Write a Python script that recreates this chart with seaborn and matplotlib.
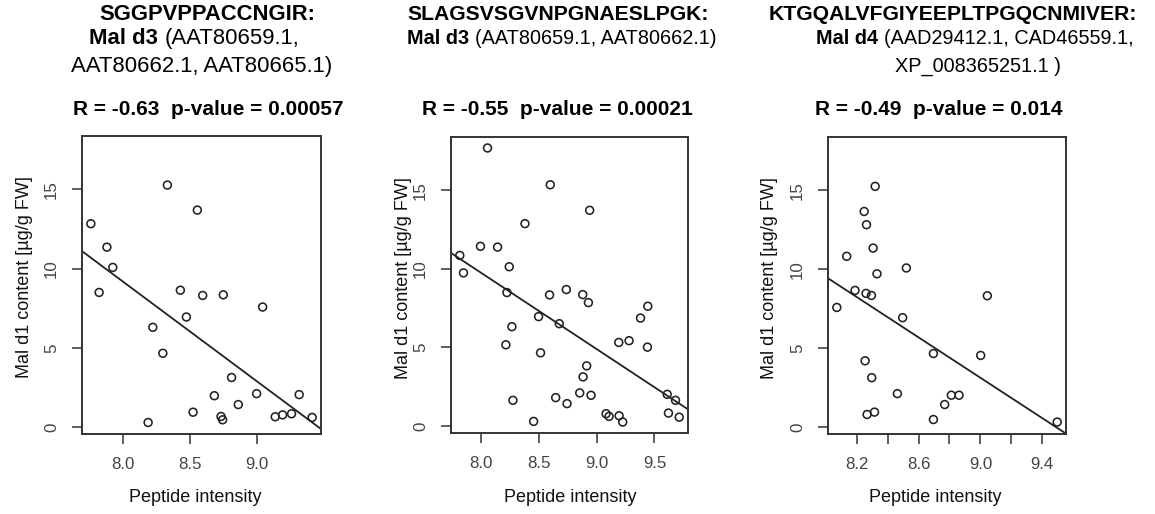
import numpy as np
import pandas as pd
import matplotlib
matplotlib.use("Agg")
import matplotlib.pyplot as plt
import seaborn as sns

# ---------------- data ----------------
p1_x = [7.761, 7.823, 7.881, 7.925, 8.189, 8.224, 8.299, 8.333, 8.430, 8.475,
        8.525, 8.557, 8.597, 8.684, 8.734, 8.746, 8.751, 8.813, 8.863, 9.000,
        9.045, 9.139, 9.194, 9.261, 9.318, 9.415]
p1_y = [12.84, 8.50, 11.36, 10.08, 0.29, 6.30, 4.66, 15.28, 8.64, 6.95,
        0.94, 13.70, 8.31, 1.98, 0.67, 0.46, 8.35, 3.13, 1.42, 2.11,
        7.58, 0.65, 0.77, 0.84, 2.05, 0.61]

p2_x = [7.815, 7.847, 8.055, 7.994, 8.142, 8.243, 8.223, 8.214, 8.266, 8.275,
        8.379, 8.454, 8.497, 8.514, 8.592, 8.598, 8.645, 8.676, 8.737, 8.743,
        8.853, 8.879, 8.882, 8.913, 8.928, 8.939, 8.951, 9.081, 9.107, 9.191,
        9.194, 9.225, 9.280, 9.379, 9.442, 9.439, 9.610, 9.621, 9.682, 9.714]
p2_y = [10.85, 9.74, 17.68, 11.43, 11.38, 10.13, 8.49, 5.17, 6.32, 1.64,
        12.87, 0.30, 6.96, 4.66, 8.34, 15.34, 1.81, 6.51, 8.68, 1.43,
        2.11, 8.36, 3.13, 3.83, 7.85, 13.72, 1.96, 0.79, 0.62, 5.32,
        0.66, 0.26, 5.43, 6.87, 7.62, 5.02, 2.02, 0.83, 1.64, 0.57]

p3_x = [8.071, 8.135, 8.189, 8.248, 8.263, 8.260, 8.295, 8.254, 8.297, 8.267,
        8.315, 8.306, 8.319, 8.331, 8.463, 8.497, 8.521, 8.696, 8.696, 8.769,
        8.812, 8.862, 9.002, 9.045, 9.497]
p3_y = [7.58, 10.82, 8.66, 13.66, 12.82, 8.47, 8.34, 4.20, 3.13, 0.80,
        0.95, 11.34, 15.25, 9.71, 2.12, 6.93, 10.08, 4.66, 0.48, 1.43,
        2.02, 2.02, 4.54, 8.32, 0.32]

peptides = ["SGGPVPPACCNGIR:", "SLAGSVSGVNPGNAESLPGK:", "KTGQALVFGIYEEPLTPGQCNMIVER:"]
allergens = ["Mal d3", "Mal d3", "Mal d4"]
accessions = [["(AAT80659.1,", "AAT80662.1, AAT80665.1)"],
              ["(AAT80659.1, AAT80662.1)"],
              ["(AAD29412.1, CAD46559.1,", "XP_008365251.1 )"]]
stats_text = ["R = -0.63  p-value = 0.00057",
              "R = -0.55  p-value = 0.00021",
              "R = -0.49  p-value = 0.014"]
xticks_list = [[8.0, 8.5, 9.0], [8.0, 8.5, 9.0, 9.5],
               [8.2, 8.4, 8.6, 8.8, 9.0, 9.2, 9.4]]
xticklabels_list = [["8.0", "8.5", "9.0"], ["8.0", "8.5", "9.0", "9.5"],
                    ["8.2", "", "8.6", "", "9.0", "", "9.4"]]
yticks = [0, 5, 10, 15]
yticklabels = ["0", "5", "10", "15"]
xlab = "Peptide intensity"
ylab = "Mal d1 content [µg/g FW]"

# ---------------- style ----------------
sns.set_style("ticks")
plt.rcParams["font.family"] = ["Liberation Sans", "DejaVu Sans"]

W, H = 1155, 514
fig = plt.figure(figsize=(W / 100, H / 100), dpi=100)

frame_col = "#333333"
pt_col = "#222222"

# axes pixel boxes (left, right, top, bottom)
boxes = [(82, 321, 136, 434), (451, 688, 137, 433), (828, 1066, 137, 434)]
ylab_x = [25, 403, 770]
xlab_cx = [195, 570, 935]

all_y = np.array(p1_y + p2_y + p3_y)
yr = all_y.max() - all_y.min()
ylim = (all_y.min() - 0.04 * yr, all_y.max() + 0.04 * yr)

data = [(p1_x, p1_y), (p2_x, p2_y), (p3_x, p3_y)]
axes = []
for i, ((xs, ys), (l, r, t, b)) in enumerate(zip(data, boxes)):
    ax = fig.add_axes([l / W, 1 - b / H, (r - l) / W, (b - t) / H])
    axes.append(ax)
    df = pd.DataFrame({"x": xs, "y": ys})
    xr = max(xs) - min(xs)
    xlim = (min(xs) - 0.04 * xr, max(xs) + 0.04 * xr)
    ax.set_xlim(xlim)
    ax.set_ylim(ylim)
    sns.scatterplot(data=df, x="x", y="y", ax=ax, marker="o", s=32,
                    facecolor="none", edgecolor=pt_col, linewidth=1.15,
                    zorder=3)
    sns.regplot(data=df, x="x", y="y", ax=ax, scatter=False, ci=None,
                truncate=False, color=pt_col, line_kws={"lw": 1.3})
    ax.set_xlim(xlim)
    ax.set_ylim(ylim)
    ax.set_xticks(xticks_list[i])
    ax.set_xticklabels(xticklabels_list[i])
    ax.set_yticks(yticks)
    ax.set_yticklabels(yticklabels, rotation=90, va="center")
    for sp in ax.spines.values():
        sp.set_visible(True)
        sp.set_color(frame_col)
        sp.set_linewidth(1.4)
    ax.tick_params(axis="both", direction="out", length=7.5, width=1.1,
                   color=frame_col, labelcolor="#444444", labelsize=12.2,
                   pad=9)
    ax.set_xlabel(xlab, fontsize=13, color="#111111")
    ax.set_ylabel(ylab, fontsize=13, color="#111111")
    ax.xaxis.set_label_coords((xlab_cx[i] - l) / (r - l), -(489 - b) / (b - t))
    ax.yaxis.set_label_coords((ylab_x[i] - l) / (r - l), 0.525)
    ax.xaxis.label.set_va("top")
    ax.yaxis.label.set_va("center")

# ---------------- titles ----------------
renderer = fig.canvas.get_renderer()


def text_w(s, size, weight):
    t = fig.text(0, 0, s, fontsize=size, fontweight=weight)
    w = t.get_window_extent(renderer).width
    t.remove()
    return w


def mixed_line(xc, ybase, parts, size):
    space = 0.278 * size * 100 / 72
    widths = [text_w(s, size, wt) for s, wt in parts]
    total = sum(widths) + space * (len(parts) - 1)
    x = xc - total / 2
    for (s, wt), w in zip(parts, widths):
        fig.text(x / W, 1 - ybase / H, s, fontsize=size, fontweight=wt,
                 ha="left", va="baseline", color="black")
        x += w + space


title_specs = [
    ([207, 194, 202], [20, 44.3, 71.7]),
    ([558, 562], [20, 44.3]),
    ([953, 975, 978], [20, 44.3, 71.7]),
]
pep_sizes = [15.8, 15.2, 15.2]
acc_sizes = [15.9, 14.3, 14.3]
stats_cx = [208, 557, 939]
for i in range(3):
    cxs, ybs = title_specs[i]
    mixed_line(cxs[0], ybs[0], [(peptides[i], "bold")], pep_sizes[i])
    mixed_line(cxs[1], ybs[1], [(allergens[i], "bold"), (accessions[i][0], "normal")],
               acc_sizes[i])
    if len(accessions[i]) > 1:
        mixed_line(cxs[2], ybs[2], [(accessions[i][1], "normal")], acc_sizes[i])
    mixed_line(stats_cx[i], 115, [(stats_text[i], "bold")], 15)

fig.savefig("out.png", dpi=100)
